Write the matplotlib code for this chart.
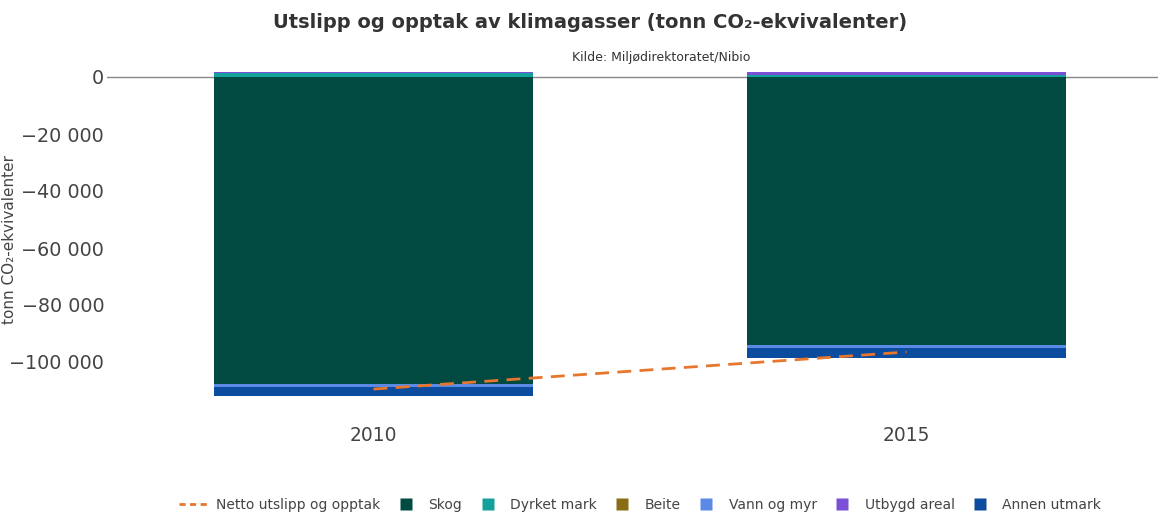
import matplotlib
matplotlib.use("Agg")
import matplotlib.pyplot as plt
from matplotlib.lines import Line2D
from matplotlib.ticker import FuncFormatter
import numpy as np

plt.rcParams['font.family'] = ['DejaVu Sans']

years = ["2010", "2015"]
series_names = ["Skog", "Dyrket mark", "Beite", "Vann og myr", "Utbygd areal", "Annen utmark"]
skog = [-107700, -94000]
dyrket_mark = [1300, 800]
beite = [50, 50]
vann_og_myr = [-1000, -1000]
utbygd_areal = [400, 800]
annen_utmark = [-3300, -3600]
netto = [-109500, -96500]
yticks = [0, -20000, -40000, -60000, -80000, -100000]

colors = ["#004a42", "#15a19b", "#8a6c16", "#5b8ae6", "#7b4fd6", "#0c4c9e"]
line_color = "#e8762c"

W, H = 1158, 512
fig = plt.figure(figsize=(W / 100, H / 100), dpi=100)
left, right, top, bottom = 107, 1158, 65, 400
ax = fig.add_axes([left / W, 1 - bottom / H, (right - left) / W, (bottom - top) / H])

x = np.arange(len(years))
all_series = [skog, dyrket_mark, beite, vann_og_myr, utbygd_areal, annen_utmark]
pos_base = np.zeros(len(years))
neg_base = np.zeros(len(years))
for vals, c in zip(all_series, colors):
    v = np.array(vals, dtype=float)
    base = np.where(v >= 0, pos_base, neg_base)
    ax.bar(x, v, bottom=base, width=0.6, color=c, linewidth=0, zorder=2)
    pos_base = pos_base + np.where(v >= 0, v, 0)
    neg_base = neg_base + np.where(v < 0, v, 0)

ax.plot(x, netto, color=line_color, linestyle=(0, (5, 3)), linewidth=2, zorder=3)

ax.axhline(0, color="#888888", linewidth=1, zorder=1)

px_per_unit = 2.85 / 1000
ytop = (77 - top) / px_per_unit
ybot = -(bottom - 77) / px_per_unit
ax.set_ylim(ybot, ytop)
ax.set_xlim(-0.5, -0.5 + (right - left) / 533)

ax.set_yticks(yticks)
ax.yaxis.set_major_formatter(FuncFormatter(
    lambda v, p: ("\u2212" if v < 0 else "") + f"{abs(int(v)):,}".replace(",", " ")))
ax.set_xticks(x)
ax.set_xticklabels(years)
ax.tick_params(axis='both', length=0, labelcolor="#444444")
ax.tick_params(axis='y', labelsize=13.8, pad=2)
ax.tick_params(axis='x', labelsize=13.4, pad=19)
for s in ax.spines.values():
    s.set_visible(False)

fig.text(10 / W, 1 - 240 / H, "tonn CO\u2082-ekvivalenter", rotation=90,
         ha='center', va='center', fontsize=11, color="#444444")

fig.text(590 / W, 1 - 22 / H, "Utslipp og opptak av klimagasser (tonn CO\u2082-ekvivalenter)",
         ha='center', va='center', fontsize=14, fontweight='bold', color="#333333")
fig.text(661 / W, 1 - 57 / H, "Kilde: Miljødirektoratet/Nibio",
         ha='center', va='center', fontsize=9, color="#333333")

handles = [Line2D([0], [0], color=line_color, linestyle=(0, (2.2, 1.6)), linewidth=2)]
handles += [Line2D([0], [0], linestyle='none', marker='s', markersize=9,
                   markerfacecolor=c, markeredgecolor='none') for c in colors]
labels = ["Netto utslipp og opptak"] + series_names
leg = fig.legend(handles, labels, loc='center', bbox_to_anchor=(640 / W, 1 - 505 / H),
                 ncol=7, frameon=False, fontsize=10, handlelength=2.2,
                 handletextpad=0.5, columnspacing=0.75, labelcolor="#444444")

fig.savefig("out.png", dpi=100)
